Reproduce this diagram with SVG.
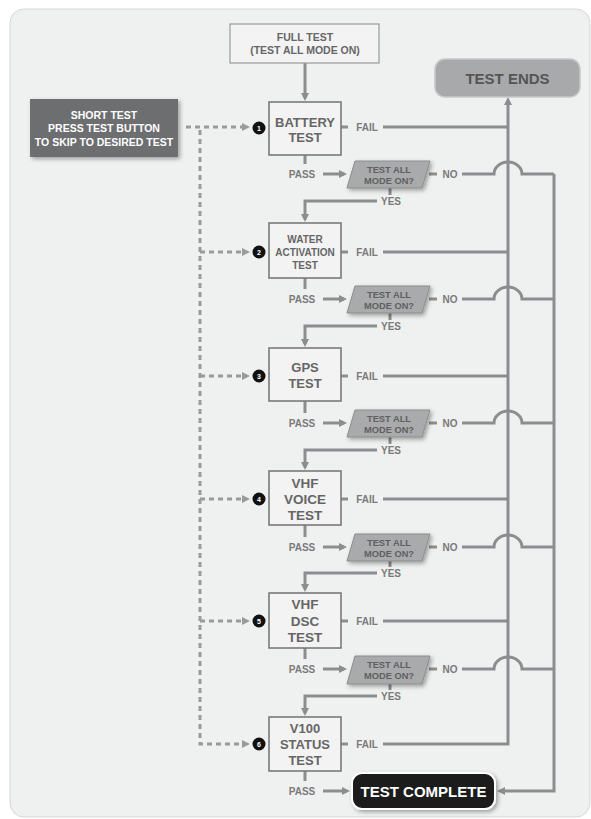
<svg xmlns="http://www.w3.org/2000/svg" width="591" height="819" viewBox="0 0 591 819">
<style>
.bg{fill:#eff0f0;stroke:#d6d7d7;stroke-width:1}
.box{fill:#f3f3f3;stroke:#7a7a7a;stroke-width:1.6}
.dec{fill:#a9aaac;stroke:#8c8c8c;stroke-width:1}
.ln{fill:none;stroke:#8c8d8f;stroke-width:3}
.dash{fill:none;stroke:#999a9b;stroke-width:3;stroke-dasharray:5 4}
.bt{font-family:"Liberation Sans",Arial,sans-serif;font-weight:bold;fill:#666;text-anchor:middle}
.lb{font-family:"Liberation Sans",Arial,sans-serif;font-weight:bold;font-size:10px;fill:#7a7a7a;text-anchor:middle}
.dt{font-family:"Liberation Sans",Arial,sans-serif;font-weight:bold;font-size:9.3px;fill:#606060;text-anchor:middle}
.num{font-family:"Liberation Sans",Arial,sans-serif;font-weight:bold;font-size:7px;fill:#fff;text-anchor:middle}
.wt{font-family:"Liberation Sans",Arial,sans-serif;font-weight:bold;fill:#fff;text-anchor:middle}
</style>
<defs>
<filter id="sh" x="-20%" y="-20%" width="150%" height="160%">
<feDropShadow dx="2" dy="2" stdDeviation="2" flood-color="#000" flood-opacity="0.35"/>
</filter>
<marker id="ar" viewBox="0 0 8 8" refX="5" refY="4" markerWidth="8" markerHeight="8" markerUnits="userSpaceOnUse" orient="auto">
<path d="M0,0 L8,4 L0,8 z" fill="#8c8d8f"/>
</marker>
<marker id="ard" viewBox="0 0 8 8" refX="4" refY="4" markerWidth="8" markerHeight="8" markerUnits="userSpaceOnUse" orient="auto">
<path d="M0,0 L8,4 L0,8 z" fill="#999a9b"/>
</marker>
</defs>
<rect class="bg" x="10" y="9" width="580" height="808" rx="14"/>

<g id="connectors">
<path class="ln" d="M305,63 V98" marker-end="url(#ar)"/>
<path class="dash" d="M186,127 H246" marker-end="url(#ard)"/>
<path class="dash" d="M200,130 V744 H246" marker-end="url(#ard)"/>
<path class="dash" d="M200,252 H246" marker-end="url(#ard)"/>
<path class="dash" d="M200,376 H246" marker-end="url(#ard)"/>
<path class="dash" d="M200,499 H246" marker-end="url(#ard)"/>
<path class="dash" d="M200,621 H246" marker-end="url(#ard)"/>
<path class="ln" d="M341,127 H348 M383,127 H508"/>
<path class="ln" d="M341,252 H348 M383,252 H508"/>
<path class="ln" d="M341,376 H348 M383,376 H508"/>
<path class="ln" d="M341,499 H348 M383,499 H508"/>
<path class="ln" d="M341,621 H348 M383,621 H508"/>
<path class="ln" d="M341,744 H348 M383,744 H508 V100" marker-end="url(#ar)"/>
<path class="ln" d="M305,155 V164 M323,174 H344" marker-end="url(#ar)"/>
<path class="ln" d="M305,278 V289 M323,299 H344" marker-end="url(#ar)"/>
<path class="ln" d="M305,401 V413 M323,423 H344" marker-end="url(#ar)"/>
<path class="ln" d="M305,525 V537 M323,547 H344" marker-end="url(#ar)"/>
<path class="ln" d="M305,648 V659 M323,669 H344" marker-end="url(#ar)"/>
<path class="ln" d="M305,771 V781 M323,791 H347" marker-end="url(#ar)"/>
<path class="ln" d="M429,174 H437 M462,174 H494 A14,12 0 0 1 522,174 H554"/>
<path class="ln" d="M429,299 H437 M462,299 H494 A14,12 0 0 1 522,299 H554"/>
<path class="ln" d="M429,423 H437 M462,423 H494 A14,12 0 0 1 522,423 H554"/>
<path class="ln" d="M429,547 H437 M462,547 H494 A14,12 0 0 1 522,547 H554"/>
<path class="ln" d="M429,669 H437 M462,669 H494 A14,12 0 0 1 522,669 H554"/>
<path class="ln" d="M554,174 V791 H500" marker-end="url(#ar)"/>
<path class="ln" d="M390,188 V195 M377,201 H305 V219" marker-end="url(#ar)"/>
<path class="ln" d="M390,313 V320 M377,326 H305 V344" marker-end="url(#ar)"/>
<path class="ln" d="M390,437 V444 M377,450 H305 V467" marker-end="url(#ar)"/>
<path class="ln" d="M390,561 V567 M377,573 H305 V589" marker-end="url(#ar)"/>
<path class="ln" d="M390,684 V690 M377,696 H305 V713" marker-end="url(#ar)"/>
</g>

<g id="labels">
<text class="lb" x="367" y="130.6">FAIL</text>
<text class="lb" x="367" y="255.6">FAIL</text>
<text class="lb" x="367" y="379.6">FAIL</text>
<text class="lb" x="367" y="502.6">FAIL</text>
<text class="lb" x="367" y="624.6">FAIL</text>
<text class="lb" x="367" y="747.6">FAIL</text>
<text class="lb" x="302" y="177.6">PASS</text>
<text class="lb" x="302" y="302.6">PASS</text>
<text class="lb" x="302" y="426.6">PASS</text>
<text class="lb" x="302" y="550.6">PASS</text>
<text class="lb" x="302" y="672.6">PASS</text>
<text class="lb" x="302" y="794.6">PASS</text>
<text class="lb" x="450" y="177.6">NO</text>
<text class="lb" x="450" y="302.6">NO</text>
<text class="lb" x="450" y="426.6">NO</text>
<text class="lb" x="450" y="550.6">NO</text>
<text class="lb" x="450" y="672.6">NO</text>
<text class="lb" x="391" y="204.6">YES</text>
<text class="lb" x="391" y="329.6">YES</text>
<text class="lb" x="391" y="453.6">YES</text>
<text class="lb" x="391" y="576.6">YES</text>
<text class="lb" x="391" y="699.6">YES</text>
</g>

<g id="full-test">
<rect class="box" x="230" y="24" width="149" height="39" style="stroke:#9a9a9a;stroke-width:1.2"/>
<text class="bt" x="305" y="41" font-size="10.5">FULL TEST</text>
<text class="bt" x="305" y="54" font-size="10.5">(TEST ALL MODE ON)</text>
</g>

<g id="short-test">
<rect x="30" y="99" width="148" height="58" fill="#6d6e70" filter="url(#sh)"/>
<text class="wt" x="104" y="119" font-size="10.5">SHORT TEST</text>
<text class="wt" x="104" y="132" font-size="10.5">PRESS TEST BUTTON</text>
<text class="wt" x="104" y="145.5" font-size="10.5">TO SKIP TO DESIRED TEST</text>
</g>

<g id="test-ends">
<rect x="435" y="59" width="145" height="38" rx="10" fill="#a8a9ab" stroke="#c6c7c8" stroke-width="1.5"/>
<text x="507.5" y="83.5" font-size="15" style="font-family:'Liberation Sans',Arial,sans-serif;font-weight:bold;fill:#555;text-anchor:middle">TEST ENDS</text>
</g>

<g id="battery">
<circle cx="259" cy="128" r="6.5" fill="#111"/><text class="num" x="259" y="130.5">1</text>
<rect class="box" x="269" y="102" width="72" height="53"/>
<text class="bt" x="305" y="126.5" font-size="13">BATTERY</text>
<text class="bt" x="305" y="141.5" font-size="13">TEST</text>
</g>
<g id="dec1">
<polygon class="dec" points="355,161 430,161 422,188 347,188" filter="url(#sh)"/>
<text class="dt" x="389" y="172.5">TEST ALL</text>
<text class="dt" x="389" y="184">MODE ON?</text>
</g>

<g id="water">
<circle cx="259" cy="252" r="6.5" fill="#111"/><text class="num" x="259" y="254.5">2</text>
<rect class="box" x="269" y="223" width="72" height="55"/>
<text class="bt" x="305" y="242.5" font-size="10">WATER</text>
<text class="bt" x="305" y="255.5" font-size="10">ACTIVATION</text>
<text class="bt" x="305" y="268.5" font-size="10">TEST</text>
</g>
<g id="dec2">
<polygon class="dec" points="355,286 430,286 422,313 347,313" filter="url(#sh)"/>
<text class="dt" x="389" y="297.5">TEST ALL</text>
<text class="dt" x="389" y="309">MODE ON?</text>
</g>

<g id="gps">
<circle cx="259" cy="376" r="6.5" fill="#111"/><text class="num" x="259" y="378.5">3</text>
<rect class="box" x="269" y="348" width="72" height="53"/>
<text class="bt" x="305" y="371.5" font-size="13">GPS</text>
<text class="bt" x="305" y="387.5" font-size="13">TEST</text>
</g>
<g id="dec3">
<polygon class="dec" points="355,410 430,410 422,437 347,437" filter="url(#sh)"/>
<text class="dt" x="389" y="421.5">TEST ALL</text>
<text class="dt" x="389" y="433">MODE ON?</text>
</g>

<g id="vhf-voice">
<circle cx="259" cy="499" r="6.5" fill="#111"/><text class="num" x="259" y="501.5">4</text>
<rect class="box" x="269" y="471" width="72" height="54"/>
<text class="bt" x="305" y="487.5" font-size="13.5">VHF</text>
<text class="bt" x="305" y="503.5" font-size="13.5">VOICE</text>
<text class="bt" x="305" y="519.5" font-size="13.5">TEST</text>
</g>
<g id="dec4">
<polygon class="dec" points="355,534 430,534 422,561 347,561" filter="url(#sh)"/>
<text class="dt" x="389" y="545.5">TEST ALL</text>
<text class="dt" x="389" y="557">MODE ON?</text>
</g>

<g id="vhf-dsc">
<circle cx="259" cy="621" r="6.5" fill="#111"/><text class="num" x="259" y="623.5">5</text>
<rect class="box" x="269" y="593" width="72" height="55"/>
<text class="bt" x="305" y="608.5" font-size="13.5">VHF</text>
<text class="bt" x="305" y="625.5" font-size="13.5">DSC</text>
<text class="bt" x="305" y="641.5" font-size="13.5">TEST</text>
</g>
<g id="dec5">
<polygon class="dec" points="355,656 430,656 422,684 347,684" filter="url(#sh)"/>
<text class="dt" x="389" y="667.5">TEST ALL</text>
<text class="dt" x="389" y="679">MODE ON?</text>
</g>

<g id="v100">
<circle cx="259" cy="744" r="6.5" fill="#111"/><text class="num" x="259" y="746.5">6</text>
<rect class="box" x="269" y="717" width="72" height="54"/>
<text class="bt" x="305" y="733" font-size="13">V100</text>
<text class="bt" x="305" y="749" font-size="13">STATUS</text>
<text class="bt" x="305" y="765" font-size="13">TEST</text>
</g>

<g id="test-complete">
<rect x="352" y="773" width="143" height="36" rx="10" fill="#1c1a1b" stroke="#ffffff" stroke-width="2" filter="url(#sh)"/>
<text class="wt" x="423.5" y="796.5" font-size="15">TEST COMPLETE</text>
</g>
</svg>
